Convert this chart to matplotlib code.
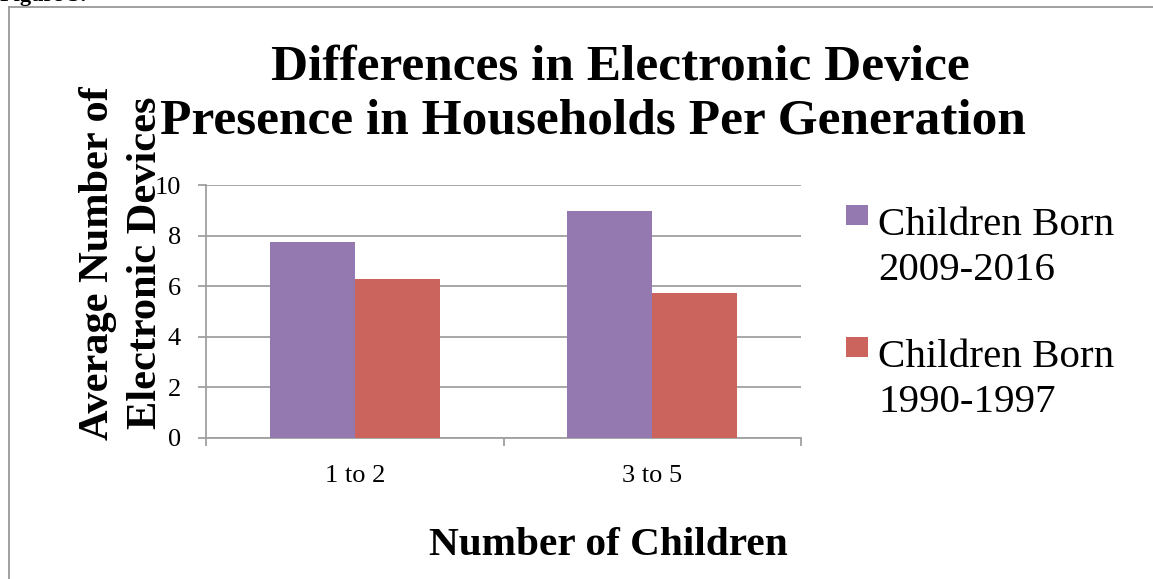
import matplotlib
matplotlib.use("Agg")
import matplotlib.pyplot as plt
from matplotlib.patches import Rectangle
import numpy as np
from matplotlib.ticker import FixedLocator

categories = ["1 to 2", "3 to 5"]
series_names = ["Children Born\n2009-2016", "Children Born\n1990-1997"]
born_2009_2016 = [7.76, 8.98]
born_1990_1997 = [6.28, 5.71]
colors = ["#9379B0", "#CC645E"]

title_lines = ["Differences in Electronic Device", "Presence in Households Per Generation"]
ylabel_text = "Average Number of\nElectronic Devices"
xlabel_text = "Number of Children"

W, H = 1153, 579
fig = plt.figure(figsize=(W / 100, H / 100), dpi=100)
ax = fig.add_axes([206 / W, 1 - 437.7 / H, 595 / W, 252.7 / H])

serif = ["Liberation Serif", "DejaVu Serif"]
grid_c = "#A0A0A0"

x = np.arange(len(categories))
bw = 0.286
ax.bar(x - bw / 2, born_2009_2016, width=bw, color=colors[0], label=series_names[0], zorder=3)
ax.bar(x + bw / 2, born_1990_1997, width=bw, color=colors[1], label=series_names[1], zorder=3)

ax.set_xlim(-0.5, len(categories) - 0.5)
ax.set_ylim(0, 10)
ax.set_yticks(np.arange(0, 11, 2))
ax.yaxis.grid(True, color=grid_c, linewidth=1.3, zorder=0)
ax.set_axisbelow(True)

ax.set_xticks(x)
ax.set_xticklabels(categories, fontfamily=serif, fontsize=19)
ax.xaxis.set_minor_locator(FixedLocator(np.arange(-0.5, len(categories), 1.0)))
ax.tick_params(axis="x", which="major", length=0, pad=20)
ax.tick_params(axis="x", which="minor", length=6, color=grid_c, width=1.3, direction="out")
ax.tick_params(axis="y", length=6, color=grid_c, width=1.3, direction="out", pad=12)
for lab in ax.get_yticklabels():
    lab.set_fontfamily(serif)
    lab.set_fontsize(19)

for s in ["top", "right"]:
    ax.spines[s].set_visible(False)
for s in ["left", "bottom"]:
    ax.spines[s].set_color(grid_c)
    ax.spines[s].set_linewidth(1.3)

# two-line title, each line placed where the reference shows it
for line, cx, base in zip(title_lines, [620, 593], [80, 133]):
    fig.text(cx / W, 1 - base / H, line, ha="center", va="baseline",
             fontfamily=serif, fontweight="bold", fontsize=37)
fig.text(122 / W, 1 - 263 / H, ylabel_text, ha="center", va="center", rotation=90,
         fontfamily=serif, fontweight="bold", fontsize=30.5, linespacing=1.32,
         multialignment="center")
fig.text(608 / W, 1 - 555 / H, xlabel_text, ha="center", va="baseline",
         fontfamily=serif, fontweight="bold", fontsize=29.7)

# legend drawn as square keys with two-line labels aligned to the first line
leg_x, leg_y0, leg_step = 846, 205, 132
for i, (name, col) in enumerate(zip(series_names, colors)):
    top = leg_y0 + i * leg_step
    fig.add_artist(Rectangle((leg_x / W, 1 - (top + 20) / H), 22 / W, 20 / H,
                             transform=fig.transFigure, facecolor=col, edgecolor="none"))
    fig.text(878 / W, 1 - (top + 75) / H, name, ha="left", va="baseline",
             fontfamily=serif, fontsize=29.5, linespacing=1.27)

# outer frame
fig.add_artist(plt.Line2D([9 / W, 9 / W], [0, 1 - 7 / H], transform=fig.transFigure,
                          color="#999999", linewidth=1.3))
fig.add_artist(plt.Line2D([9 / W, 1], [1 - 7 / H, 1 - 7 / H], transform=fig.transFigure,
                          color="#999999", linewidth=1.3))
fig.text(0 / W, 1 - 1 / H, "Figure 3:", ha="left", va="baseline",
         fontfamily=serif, fontweight="bold", fontsize=16)

fig.savefig("out.png", dpi=100)
